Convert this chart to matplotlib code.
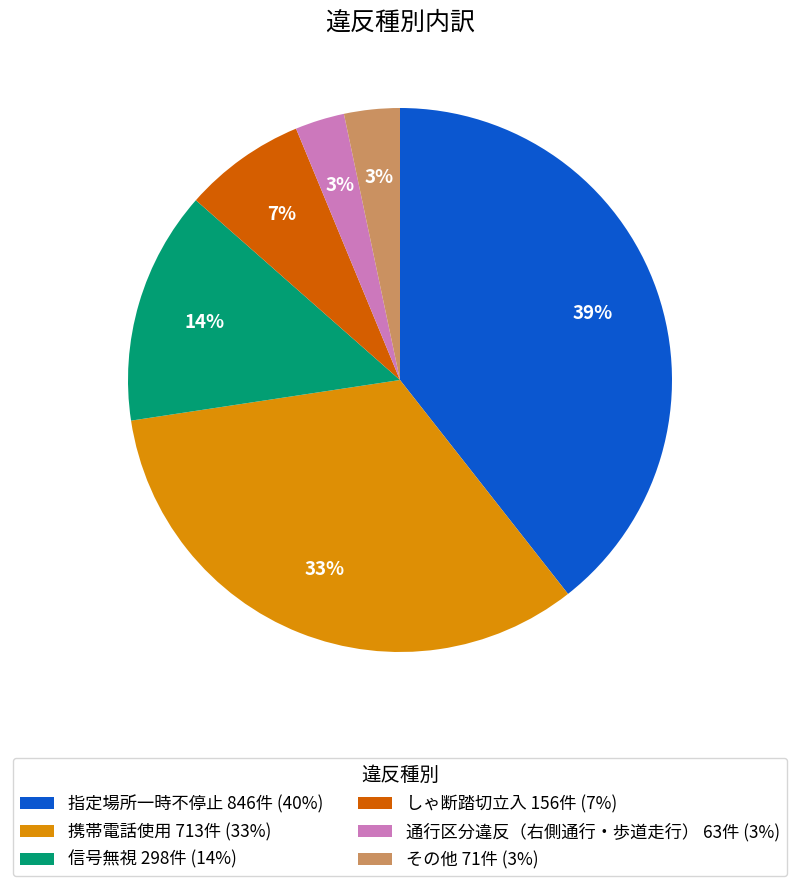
import matplotlib
matplotlib.use('Agg')
import matplotlib.pyplot as plt

plt.rcParams['font.family'] = ['Noto Sans CJK JP', 'DejaVu Sans']

categories = ['指定場所一時不停止', '携帯電話使用', '信号無視', 'しゃ断踏切立入',
              '通行区分違反（右側通行・歩道走行）', 'その他']
counts = [846, 713, 298, 156, 63, 71]
legend_pcts = [40, 33, 14, 7, 3, 3]
colors = ['#0b57d0', '#de8f05', '#029e73', '#d55e00', '#cc78bc', '#ca9161']

fig = plt.figure(figsize=(8, 8.9), dpi=100)
ax = fig.add_axes([0.16, 238 / 890, 0.68, 544 / 890])

wedges, texts, autotexts = ax.pie(counts, colors=colors, startangle=90, counterclock=False,
                                  autopct='%.0f%%', pctdistance=0.75,
                                  textprops=dict(color='white', fontsize=13.5, fontweight='bold'))
ax.set_xlim(-1, 1)
ax.set_ylim(-1, 1)
ax.set_aspect('equal')
ax.axis('off')

fig.text(0.5, 867 / 890, '違反種別内訳', ha='center', va='center', fontsize=18)

labels = [f'{c} {n}件 ({p}%)' for c, n, p in zip(categories, counts, legend_pcts)]

leg = fig.legend(wedges, labels, title='違反種別', loc='lower center',
                 bbox_to_anchor=(0.5, 0.006), ncol=2, fontsize=12.4, title_fontsize=14,
                 frameon=True, fancybox=True, columnspacing=2.0, labelspacing=0.55)

fig.savefig('out.png', dpi=100)
